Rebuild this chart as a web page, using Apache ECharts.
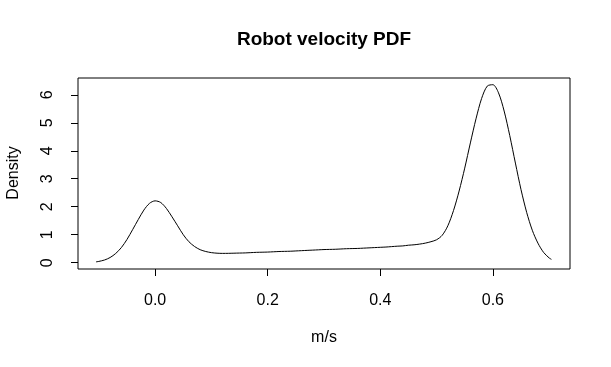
<!DOCTYPE html>
<html>
<head>
<meta charset="utf-8">
<script src="https://cdn.jsdelivr.net/npm/echarts@6/dist/echarts.min.js"></script>
<style>
html,body{margin:0;padding:0;background:#fff;}
#chart{width:611px;height:367px;}
</style>
</head>
<body>
<div id="chart"></div>
<script>
var titleText = 'Robot velocity PDF';
var xTitle = 'm/s';
var yTitle = 'Density';
var xTicks = [0, 0.2, 0.4, 0.6];
var yTicks = [0, 1, 2, 3, 4, 5, 6];
var velocity = [-0.105,-0.10,-0.09,-0.08,-0.07,-0.06,-0.05,-0.04,-0.03,-0.02,-0.01,
  0.00,0.01,0.02,0.03,0.04,0.05,0.06,0.07,0.08,0.09,
  0.10,0.11,0.12,0.13,0.14,0.15,0.16,0.17,0.18,0.19,
  0.20,0.21,0.22,0.23,0.24,0.25,0.26,0.27,0.28,0.29,
  0.30,0.31,0.32,0.33,0.34,0.35,0.36,0.37,0.38,0.39,
  0.40,0.41,0.42,0.43,0.44,0.45,0.46,0.47,0.48,0.49,
  0.50,0.51,0.52,0.53,0.54,0.55,0.56,0.57,0.58,0.59,
  0.60,0.61,0.62,0.63,0.64,0.65,0.66,0.67,0.68,0.69,
  0.70,0.704];
var density = [0.03,0.046,0.096,0.185,0.33,0.54,0.83,1.18,1.54,1.88,2.12,
  2.21,2.15,1.94,1.64,1.32,1.00,0.75,0.58,0.465,0.40,
  0.36,0.34,0.333,0.335,0.34,0.345,0.35,0.36,0.37,0.375,
  0.38,0.39,0.40,0.405,0.41,0.42,0.43,0.44,0.45,0.46,
  0.47,0.475,0.48,0.49,0.50,0.505,0.51,0.52,0.53,0.54,
  0.55,0.56,0.575,0.59,0.60,0.625,0.64,0.665,0.70,0.75,
  0.82,0.98,1.32,1.86,2.56,3.38,4.28,5.14,5.87,6.31,
  6.36,6.07,5.42,4.54,3.56,2.61,1.80,1.16,0.70,0.37,
  0.17,0.12];

var points = velocity.map(function(v, i){ return [v, density[i]]; });
var FONT = 'Liberation Sans, Arial, Helvetica, sans-serif';

var chart = echarts.init(document.getElementById('chart'), null, {renderer:'canvas'});
chart.setOption({
  animation: false,
  backgroundColor: '#ffffff',
  grid: {left: 78, right: 41, top: 78, bottom: 98, show: true, borderColor: '#000', borderWidth: 1, backgroundColor: 'transparent'},
  xAxis: {
    type: 'value', min: -0.137, max: 0.737,
    axisLine: {show: false, onZero: false},
    splitLine: {show: false},
    axisTick: {show: true, inside: false, length: 7, customValues: xTicks, lineStyle: {color: '#000', width: 1}},
    axisLabel: {customValues: xTicks, color: '#000', fontSize: 16, fontFamily: FONT, margin: 24,
      formatter: function(v){ return v.toFixed(1); }}
  },
  yAxis: {
    type: 'value', min: -0.225, max: 6.60,
    axisLine: {show: false, onZero: false},
    splitLine: {show: false},
    axisTick: {show: true, inside: false, length: 7, customValues: yTicks, lineStyle: {color: '#000', width: 1}},
    axisLabel: {customValues: yTicks, color: '#000', fontSize: 16, fontFamily: FONT, margin: 22, rotate: 90,
      formatter: function(v){ return String(v); }}
  },
  graphic: [
    {type: 'text', x: 324, y: 40, style: {text: titleText, font: 'bold 19px ' + FONT, fill: '#000', textAlign: 'center', textVerticalAlign: 'middle'}},
    {type: 'text', x: 324, y: 338, style: {text: xTitle, font: '16px ' + FONT, fill: '#000', textAlign: 'center', textVerticalAlign: 'middle'}},
    {type: 'text', x: 14, y: 173, rotation: Math.PI / 2, style: {text: yTitle, font: '16px ' + FONT, fill: '#000', textAlign: 'center', textVerticalAlign: 'middle'}}
  ],
  series: [{
    type: 'line', data: points, showSymbol: false, smooth: 0.3,
    lineStyle: {color: '#000', width: 1}
  }]
});
</script>
</body>
</html>
